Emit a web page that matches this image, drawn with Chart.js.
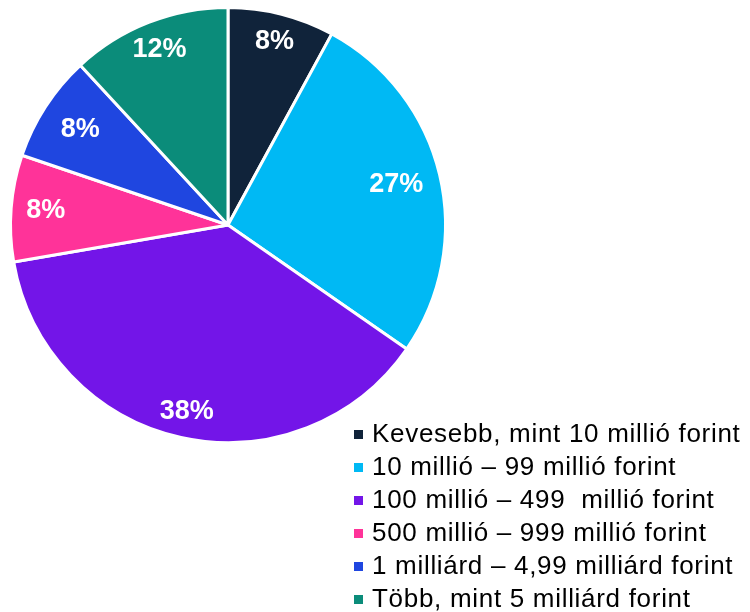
<!DOCTYPE html>
<html>
<head>
<meta charset="utf-8">
<script src="https://cdn.jsdelivr.net/npm/chart.js@4.4.0/dist/chart.umd.min.js"></script>
<style>
  body { margin: 0; background: #fff; }
  #wrap { position: relative; width: 750px; height: 612px; }
  #legend { position: absolute; left: 354px; top: 417px; font-family: "Liberation Sans", Arial, sans-serif; font-size: 26px; letter-spacing: 0.7px; color: #000; }
  .item { height: 33px; line-height: 33px; white-space: pre; }
  .box { display: inline-block; width: 9px; height: 9px; margin-right: 9px; vertical-align: 3px; }
</style>
</head>
<body>
<div id="wrap">
  <canvas id="pie" width="750" height="612"></canvas>
  <div id="legend"></div>
</div>
<script>
// Kategóriák és értékek
const categories = [
    'Kevesebb, mint 10 millió forint',
    '10 millió – 99 millió forint',
    '100 millió – 499  millió forint',
    '500 millió – 999 millió forint',
    '1 milliárd – 4,99 milliárd forint',
    'Több, mint 5 milliárd forint'
];
const values = [8, 27, 38, 8, 8, 12];
const valueLabels = ['8%', '27%', '38%', '8%', '8%', '12%'];
const colors = ['#10233a', '#00b9f4', '#7315e8', '#ff3399', '#1f46e0', '#0b8c7a'];

// Feliratok a szeletekre
const sliceLabels = {
    id: 'sliceLabels',
    afterDatasetsDraw(chart, args, opts) {
        const ctx = chart.ctx;
        const arcs = chart.getDatasetMeta(0).data;
        ctx.save();
        ctx.fillStyle = '#fff';
        ctx.font = 'bold 27px "Liberation Sans", Arial, sans-serif';
        ctx.textAlign = 'center';
        ctx.textBaseline = 'middle';
        arcs.forEach((arc, i) => {
            const mid = (arc.startAngle + arc.endAngle) / 2;
            const r = arc.outerRadius * opts.radius[i];
            ctx.fillText(valueLabels[i], arc.x + Math.cos(mid) * r, arc.y + Math.sin(mid) * r);
        });
        ctx.restore();
    }
};

new Chart(document.getElementById('pie').getContext('2d'), {
    type: 'pie',
    data: {
        labels: categories,
        datasets: [{
            data: values,
            backgroundColor: colors,
            borderColor: '#fff',
            borderWidth: 3
        }]
    },
    options: {
        responsive: false,
        animation: false,
        layout: { padding: { left: 9, top: 6, right: 303, bottom: 168 } },
        plugins: {
            legend: { display: false },
            tooltip: { enabled: false },
            sliceLabels: { radius: [0.87, 0.795, 0.88, 0.84, 0.81, 0.865] }
        }
    },
    plugins: [sliceLabels]
});

// Jelmagyarázat
const legend = document.getElementById('legend');
categories.forEach((name, i) => {
    const row = document.createElement('div');
    row.className = 'item';
    const box = document.createElement('span');
    box.className = 'box';
    box.style.background = colors[i];
    row.appendChild(box);
    row.appendChild(document.createTextNode(name));
    legend.appendChild(row);
});
</script>
</body>
</html>
